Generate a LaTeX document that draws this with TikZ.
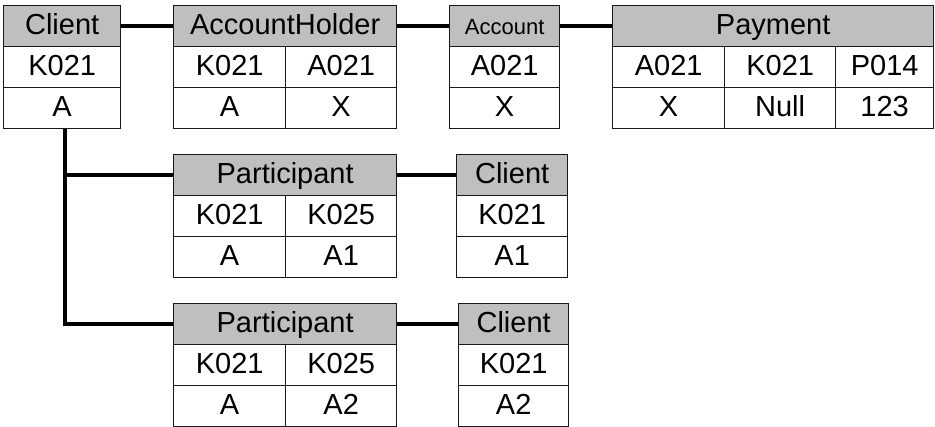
\documentclass[tikz,border=0pt]{standalone}
\usepackage{fontspec}
\setmainfont{Liberation Sans}
\begin{document}
\begin{tikzpicture}[x=1pt,y=-1pt,
        cell/.style={draw=black!90,line width=1.3pt,anchor=north west,minimum height=41pt,
            inner sep=0pt,text height=20pt,text depth=4pt,font=\fontsize{29}{29}\selectfont},
        head/.style={cell,fill=gray!50},
        link/.style={line width=4pt}]
        \useasboundingbox (0,0) rectangle (935,427);
        %% Client
        \node[head,minimum width=117pt] (cl) at (3,5) {Client};
        \node[cell,minimum width=117pt] (clK) at (3,46) {K021};
        \node[cell,minimum width=117pt] (clA) at (3,87) {A};
        %% AccountHolder
        \node[head,minimum width=223pt] (ah) at (173,5) {AccountHolder};
        \node[cell,minimum width=112pt] (ahK) at (173,46) {K021};
        \node[cell,minimum width=111pt] (ahA) at (285,46) {A021};
        \node[cell,minimum width=112pt] (ahK2) at (173,87) {A};
        \node[cell,minimum width=111pt] (ahA2) at (285,87) {X};
        %% Account
        \node[head,minimum width=110pt,font=\fontsize{22}{22}\selectfont] (acc) at (449,5) {Account};
        \node[cell,minimum width=110pt] (accA) at (449,46) {A021};
        \node[cell,minimum width=110pt] (accX) at (449,87) {X};
        %% Payment
        \node[head,minimum width=321pt] (pay) at (612,5) {Payment};
        \node[cell,minimum width=112pt] (payA) at (612,46) {A021};
        \node[cell,minimum width=111pt] (payK) at (724,46) {K021};
        \node[cell,minimum width=98pt] (payP) at (835,46) {P014};
        \node[cell,minimum width=112pt] (payA2) at (612,87) {X};
        \node[cell,minimum width=111pt] (payK2) at (724,87) {Null};
        \node[cell,minimum width=98pt] (payP2) at (835,87) {123};
        %% Participant 1
        \node[head,minimum width=223pt] (pt1) at (173,154) {Participant};
        \node[cell,minimum width=112pt] (pt1K) at (173,195) {K021};
        \node[cell,minimum width=111pt] (pt1L) at (285,195) {K025};
        \node[cell,minimum width=112pt] (pt1A) at (173,236) {A};
        \node[cell,minimum width=111pt] (pt1B) at (285,236) {A1};
        \node[head,minimum width=111pt] (cl1) at (456,154) {Client};
        \node[cell,minimum width=111pt] (cl1K) at (456,195) {K021};
        \node[cell,minimum width=111pt] (cl1A) at (456,236) {A1};
        %% Participant 2
        \node[head,minimum width=223pt] (pt2) at (173,303) {Participant};
        \node[cell,minimum width=112pt] (pt2K) at (173,344) {K021};
        \node[cell,minimum width=111pt] (pt2L) at (285,344) {K025};
        \node[cell,minimum width=112pt] (pt2A) at (173,385) {A};
        \node[cell,minimum width=111pt] (pt2B) at (285,385) {A2};
        \node[head,minimum width=110pt] (cl2) at (458,303) {Client};
        \node[cell,minimum width=110pt] (cl2K) at (458,344) {K021};
        \node[cell,minimum width=110pt] (cl2A) at (458,385) {A2};
        %% Links
        \coordinate (bend) at (65,200);
        \draw[link] (cl) -- (ah);
        \draw[link] (ah) -- (acc);
        \draw[link] (acc) -- (pay);
        \draw[link] (clA.south -| bend) |- (pt1.west);
        \draw[link] (clA.south -| bend) |- (pt2.west);
        \draw[link] (pt1) -- (cl1);
        \draw[link] (pt2) -- (cl2);
    \end{tikzpicture}
\end{document}
